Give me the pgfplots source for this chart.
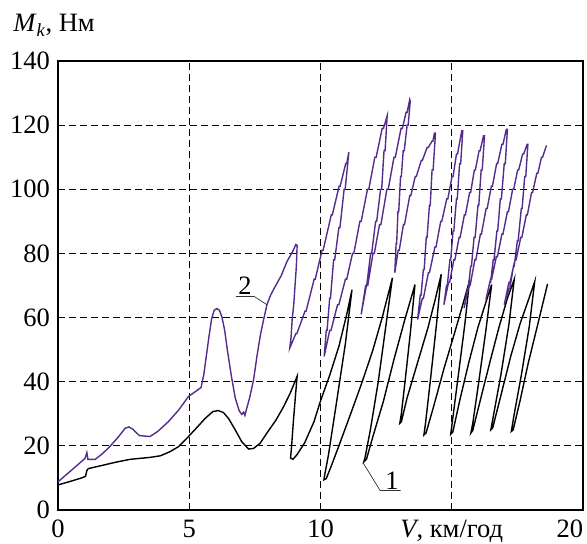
\documentclass[border=0pt]{standalone}
\usepackage{fontspec}
\setmainfont{Liberation Serif}
\usepackage{pgfplots}
\pgfplotsset{compat=1.18}
\definecolor{curvetwo}{RGB}{84,44,140}
\begin{document}
\begin{tikzpicture}[x=1pt,y=1pt]
\useasboundingbox (-58,-34) rectangle (529,510);
\begin{axis}[
  at={(0,0)}, anchor=south west,
  scale only axis, width=525pt, height=449pt,
  xmin=0, xmax=20, ymin=0, ymax=140,
  xtick={0,5,10,15,20}, ytick={0,20,...,140},
  xticklabels={0,5,10,{\textit{V}, км/год},{}},
  major tick length=0pt,
  grid=major,
  major grid style={black, line width=1.2pt, dash pattern=on 7pt off 4pt},
  axis line style={line width=1.4pt},
  tick label style={font=\fontsize{26.5}{28}\selectfont, inner sep=0pt},
  /pgf/number format/assume math mode=true,
  xticklabel shift=10pt, yticklabel shift=8pt,
  clip=false,
]
% curve 1: black
\addplot[black, line width=1.4pt] coordinates {
(0,7.8) (0.5,9.0) (0.9,10.0) (1.05,10.5) (1.1,12.3) (1.15,12.9) (1.6,13.75)
(2.2,14.9) (2.75,15.8) (3.5,16.4) (3.9,16.9) (4.27,18.2) (4.6,19.8) (4.97,22.9)
(5.3,25.8) (5.6,28.5) (5.9,30.7) (6.1,31.0) (6.3,30.4) (6.5,28.5) (6.75,25)
(7.0,21.3) (7.26,19.0) (7.45,19.2) (7.7,20.8) (7.96,24) (8.3,28) (8.6,32.3)
(8.85,36.5) (9.11,41.7)
(9.05,36) (8.97,28) (8.9,20) (8.86,16.2) (8.95,15.8) (9.1,17.2)
(9.4,21) (9.75,27.5) (10.0,34) (10.35,42) (10.7,51) (11.0,61) (11.2,68.7)
(10.95,52) (10.6,33) (10.3,17) (10.15,10.5) (10.13,9.4) (10.22,9.8)
(10.4,13.5) (10.7,20) (11.15,30) (11.59,40) (12.0,50) (12.35,60) (12.74,72.4)
(12.5,58) (12.2,40) (11.9,25) (11.7,16.5) (11.65,15) (11.75,15.8)
(12.0,23) (12.4,34) (12.8,47) (13.2,59) (13.6,70.3)
(13.42,55) (13.22,40) (13.08,30) (13.02,27) (13.08,27.5)
(13.3,35) (13.7,46) (14.1,57) (14.38,66) (14.6,73.5)
(14.42,58) (14.18,40) (14.0,27) (13.94,23.4) (14.02,24)
(14.3,32) (14.7,44) (15.1,55) (15.42,64) (15.68,71.6)
(15.5,58) (15.25,42) (15.03,28) (14.96,23.6) (15.04,24.3)
(15.3,34) (15.65,46) (16.0,57) (16.27,64) (16.52,70.3)
(16.3,56) (16.03,40) (15.8,27) (15.73,24) (15.8,24.8)
(16.05,33) (16.45,46) (16.8,57) (17.12,66) (17.38,71.9)
(17.18,58) (16.87,42) (16.6,30) (16.49,25) (16.56,25.6)
(16.85,35) (17.25,48) (17.6,58) (17.9,65) (18.16,71.2)
(17.95,57) (17.65,42) (17.36,29) (17.27,24.5) (17.34,25)
(17.6,34) (17.92,46) (18.28,58) (18.65,70.5)
};
% curve 2: purple
\addplot[curvetwo, line width=1.4pt] coordinates {
(0,8.8) (0.5,12.3) (1.03,16.1) (1.1,17.9) (1.14,15.8) (1.42,15.8) (1.7,17.6)
(2.0,20) (2.3,22.8) (2.56,25.5) (2.7,25.9) (2.85,25.2) (3.1,23.2) (3.5,22.9)
(3.8,24.5) (4.2,27.5) (4.6,31.2) (4.97,35.4) (5.25,37) (5.45,38.2) (5.55,42)
(5.65,48) (5.75,54) (5.85,59.5) (5.95,62.3) (6.05,62.8) (6.15,62.3) (6.25,60)
(6.35,56) (6.45,50) (6.6,42) (6.75,35) (6.9,31) (7.0,29.8) (7.07,30.5)
(7.12,29.5) (7.2,32) (7.3,35) (7.45,40.6) (7.58,48) (7.72,55) (7.85,60)
(7.96,64) (8.1,67) (8.28,69.8) (8.5,73) (8.73,77.6) (8.9,80) (8.98,81.3)
(9.06,82.8) (9.11,82.5)
(9.08,76) (9.03,70) (8.98,64) (8.92,59.4) (8.88,54) (8.83,50.5)
(9.06,55) (9.1,55) (9.41,62) (9.45,62) (9.76,72) (9.8,72) (10.06,81) (10.1,81)
(10.41,92) (10.45,92) (10.71,101) (10.75,101) (10.96,108) (11.0,108) (11.08,111.6)
(10.94,100) (10.9,100) (10.74,88) (10.7,88) (10.54,78) (10.5,78) (10.38,66)
(10.35,66) (10.25,56) (10.22,56) (10.14,47.9)
(10.35,56) (10.4,56) (10.65,64) (10.7,64) (10.95,72) (11.0,72) (11.22,80)
(11.27,80) (11.5,90) (11.55,90) (11.79,100) (11.84,100) (12.07,110) (12.12,110)
(12.35,119) (12.4,119) (12.54,122.9)
(12.46,112) (12.42,112) (12.33,100) (12.29,100) (12.14,90) (12.1,90)
(11.95,80) (11.91,80) (11.76,70) (11.72,70) (11.55,61)
(11.75,70) (11.8,70) (12.0,80) (12.05,80) (12.25,89) (12.3,89) (12.53,100)
(12.58,100) (12.8,110) (12.85,110) (13.07,119) (13.12,119) (13.26,124)
(13.3,124) (13.4,128) (13.42,127.5)
(13.34,120) (13.3,120) (13.19,112) (13.15,112) (13.08,104) (13.05,104)
(12.98,93) (12.95,93) (12.9,83) (12.88,83) (12.83,74)
(12.96,81) (13.0,81) (13.16,89) (13.2,89) (13.4,98) (13.44,98) (13.61,104)
(13.65,104) (13.84,109) (13.88,109) (14.06,113) (14.1,113) (14.25,115)
(14.28,115) (14.34,117.5) (14.38,117.5)
(14.29,106) (14.25,106) (14.18,95) (14.15,95) (14.06,85) (14.03,85)
(13.95,75) (13.92,75) (13.83,67) (13.8,67) (13.7,59.4)
(13.88,66) (13.92,66) (14.11,74) (14.15,74) (14.36,82) (14.4,82) (14.58,90)
(14.62,90) (14.81,97) (14.85,97) (15.01,104) (15.05,104) (15.18,111)
(15.22,111) (15.38,118.2) (15.42,118.2)
(15.34,108) (15.3,108) (15.21,97) (15.18,97) (15.08,87) (15.05,87) (14.96,78)
(14.93,78) (14.83,70) (14.8,70) (14.7,64)
(14.88,71) (14.92,71) (15.08,78) (15.12,78) (15.28,85) (15.32,85) (15.48,92)
(15.52,92) (15.68,99) (15.72,99) (15.86,106) (15.9,106) (16.04,112)
(16.08,112) (16.21,116.7) (16.25,116.7)
(16.16,106) (16.12,106) (16.03,95) (16.0,95) (15.89,85) (15.85,85) (15.75,76)
(15.72,76) (15.63,69) (15.6,69) (15.47,63)
(15.66,70) (15.7,70) (15.88,78) (15.92,78) (16.09,86) (16.13,86) (16.31,94)
(16.35,94) (16.51,101) (16.55,101) (16.71,108) (16.75,108) (16.91,114)
(16.95,114) (17.08,118.7) (17.12,118.7)
(17.04,108) (17.0,108) (16.89,97) (16.85,97) (16.75,87) (16.72,87) (16.61,78)
(16.58,78) (16.48,71) (16.45,71) (16.3,65.6)
(16.48,72) (16.52,72) (16.7,79) (16.74,79) (16.91,86) (16.95,86) (17.12,93)
(17.16,93) (17.32,100) (17.36,100) (17.51,106) (17.55,106) (17.7,111)
(17.74,111) (17.87,114) (17.9,114)
(17.82,104) (17.78,104) (17.68,94) (17.65,94) (17.53,84) (17.5,84) (17.38,76)
(17.35,76) (17.21,69) (17.18,69) (17.0,64)
(17.18,71) (17.22,71) (17.41,78) (17.45,78) (17.63,85) (17.67,85) (17.84,92)
(17.88,92) (18.04,99) (18.08,99) (18.24,105) (18.28,105) (18.42,110)
(18.46,110) (18.6,113.5) (18.63,113.5)
};
% curve labels with leaders
\node[anchor=base, inner sep=0pt, font=\fontsize{26.5}{28}\selectfont] at (axis cs:7.12,67.2) {2};
\draw[line width=0.7pt, black!80] (axis cs:6.78,66.6) -- (axis cs:7.47,66.6) -- (axis cs:7.96,64.0);
\node[anchor=base, inner sep=0pt, font=\fontsize{26.5}{28}\selectfont] at (axis cs:12.72,6.4) {1};
\draw[line width=0.7pt, black!80] (axis cs:11.63,14.6) -- (axis cs:12.27,6.1) -- (axis cs:13.05,6.1);
% axis titles
\node[anchor=base west, inner sep=0pt, font=\fontsize{26.5}{28}\selectfont] at (axis cs:-1.71,149.1) {\textit{M}\textsubscript{\textit{k}}, Нм};
\node[anchor=north, inner sep=0pt, font=\fontsize{26.5}{28}\selectfont] at (axis cs:19.5,0) [yshift=-10pt] {20};
\end{axis}
\end{tikzpicture}
\end{document}
